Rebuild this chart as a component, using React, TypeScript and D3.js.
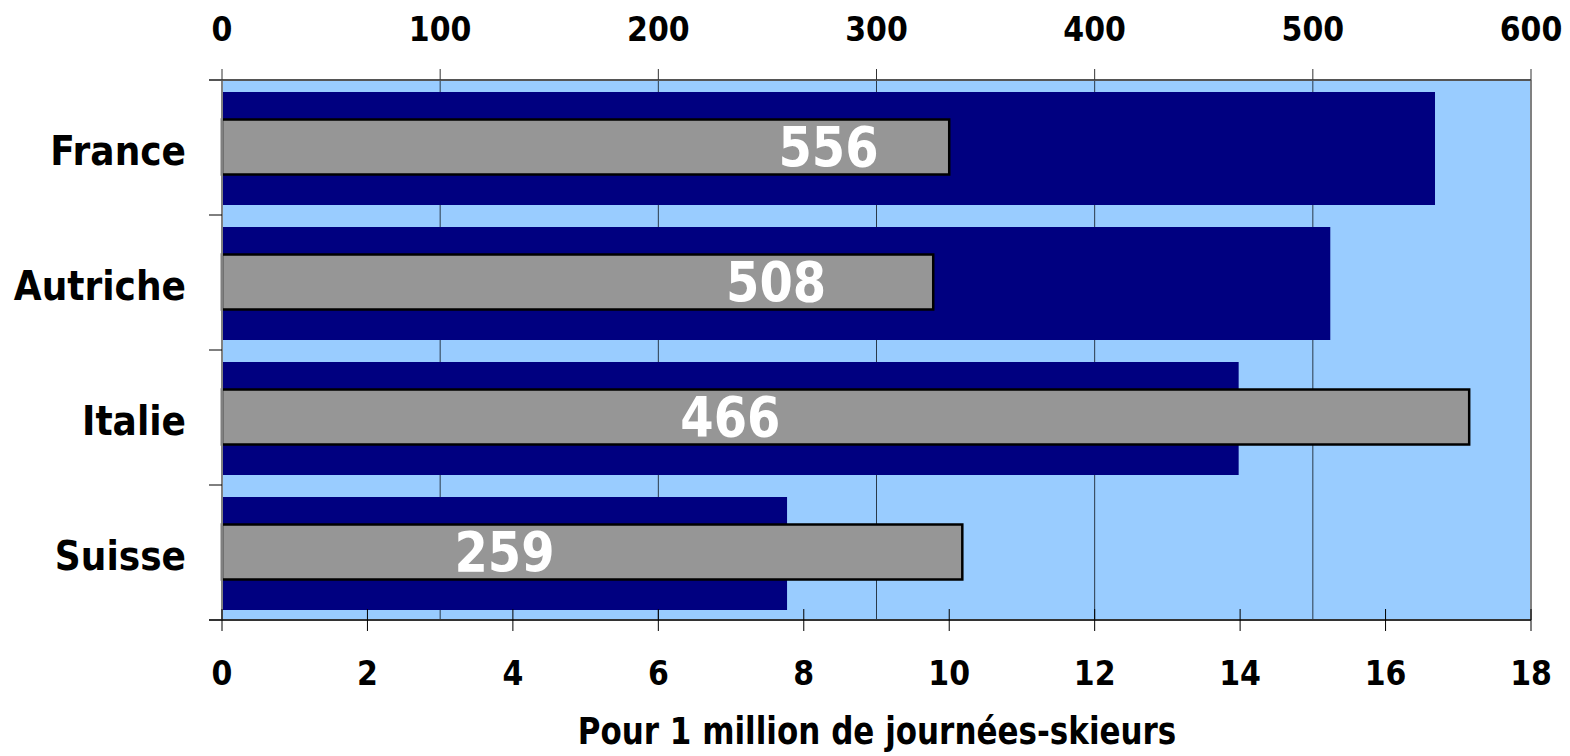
import { useEffect, useRef } from 'react';
import * as d3 from 'd3';

const countries = ['France', 'Autriche', 'Italie', 'Suisse'];
const totalValues = [556, 508, 466, 259];
const perMillionValues = [10.0, 9.78, 17.15, 10.18];
const topTicks = [0, 100, 200, 300, 400, 500, 600];
const bottomTicks = [0, 2, 4, 6, 8, 10, 12, 14, 16, 18];
const axisTitle = 'Pour 1 million de journées-skieurs';

const W = 1570;
const H = 756;
const FONT = '"DejaVu Sans", Verdana, sans-serif';

const App = () => {
    const chartRef = useRef<HTMLDivElement>(null);

    useEffect(() => {
        const left = 222, right = 1531, top = 80, bottom = 620;

        const svg = d3.select(chartRef.current)
            .append('svg')
            .attr('width', W)
            .attr('height', H)
            .style('position', 'absolute')
            .style('left', 0)
            .style('top', 0)
            .style('background', '#fff');

        const xTop = d3.scaleLinear().domain([0, 600]).range([left, right]);
        const xBottom = d3.scaleLinear().domain([0, 18]).range([left, right]);
        const y = d3.scaleBand().domain(countries).range([top, bottom]);

        // plot background
        svg.append('rect')
            .attr('x', left).attr('y', top)
            .attr('width', right - left).attr('height', bottom - top)
            .attr('fill', '#99CCFF');

        // gridlines from top axis
        svg.append('g')
            .selectAll('line')
            .data(topTicks.slice(1, -1))
            .enter()
            .append('line')
            .attr('x1', d => xTop(d)).attr('x2', d => xTop(d))
            .attr('y1', top).attr('y2', bottom)
            .attr('stroke', '#2a3a4a').attr('stroke-width', 1);

        // dark bars (top axis)
        const rows = countries.map((c, i) => ({ c, total: totalValues[i], per: perMillionValues[i] }));
        svg.append('g')
            .selectAll('rect')
            .data(rows)
            .enter()
            .append('rect')
            .attr('x', xTop(0))
            .attr('y', d => (y(d.c) as number) + 12)
            .attr('width', d => xTop(d.total) - xTop(0))
            .attr('height', 113)
            .attr('fill', '#000080');

        // grey bars (bottom axis)
        svg.append('g')
            .selectAll('rect')
            .data(rows)
            .enter()
            .append('rect')
            .attr('x', xBottom(0))
            .attr('y', d => (y(d.c) as number) + y.bandwidth() / 2 - 28)
            .attr('width', d => xBottom(d.per) - xBottom(0))
            .attr('height', 55)
            .attr('fill', '#969696')
            .attr('stroke', '#000')
            .attr('stroke-width', 2.5);

        // value labels
        svg.append('g')
            .selectAll('text')
            .data(rows)
            .enter()
            .append('text')
            .attr('transform', d => `translate(${(xTop(0) + xTop(d.total)) / 2},${(y(d.c) as number) + y.bandwidth() / 2 + 18}) scale(1,1.14)`)
            .attr('text-anchor', 'middle')
            .attr('font-family', FONT)
            .attr('font-weight', 'bold')
            .attr('font-size', 48)
            .attr('fill', '#fff')
            .text(d => d.total);

        // frame
        svg.append('line').attr('x1', left).attr('x2', left).attr('y1', top).attr('y2', bottom)
            .attr('stroke', '#808080').attr('stroke-width', 2);
        svg.append('line').attr('x1', right).attr('x2', right).attr('y1', top).attr('y2', bottom)
            .attr('stroke', '#808080').attr('stroke-width', 2);
        svg.append('line').attr('x1', left - 13).attr('x2', right).attr('y1', top).attr('y2', top)
            .attr('stroke', '#555').attr('stroke-width', 2);
        svg.append('line').attr('x1', left - 13).attr('x2', right).attr('y1', bottom).attr('y2', bottom)
            .attr('stroke', '#333').attr('stroke-width', 2);

        // category ticks on left
        svg.append('g')
            .selectAll('line')
            .data(countries.slice(1))
            .enter()
            .append('line')
            .attr('x1', left - 13).attr('x2', left)
            .attr('y1', d => y(d) as number).attr('y2', d => y(d) as number)
            .attr('stroke', '#000').attr('stroke-width', 1);

        // top ticks
        svg.append('g')
            .selectAll('line')
            .data(topTicks)
            .enter()
            .append('line')
            .attr('x1', d => xTop(d)).attr('x2', d => xTop(d))
            .attr('y1', top - 11).attr('y2', top)
            .attr('stroke', '#333').attr('stroke-width', 1);

        // bottom ticks (cross)
        svg.append('g')
            .selectAll('line')
            .data(bottomTicks)
            .enter()
            .append('line')
            .attr('x1', d => xBottom(d)).attr('x2', d => xBottom(d))
            .attr('y1', bottom - 11).attr('y2', bottom + 11)
            .attr('stroke', '#000').attr('stroke-width', 1);

        const label = (g: any, size: number) => g
            .attr('font-family', FONT)
            .attr('font-weight', 'bold')
            .attr('font-size', size)
            .attr('fill', '#000');

        label(svg.append('g'), 30)
            .selectAll('text')
            .data(topTicks)
            .enter()
            .append('text')
            .attr('transform', (d: number) => `translate(${xTop(d)},41) scale(1,1.14)`)
            .attr('text-anchor', 'middle')
            .text((d: number) => d);

        label(svg.append('g'), 30)
            .selectAll('text')
            .data(bottomTicks)
            .enter()
            .append('text')
            .attr('transform', (d: number) => `translate(${xBottom(d)},685) scale(1,1.1)`)
            .attr('text-anchor', 'middle')
            .text((d: number) => d);

        label(svg.append('g'), 36)
            .selectAll('text')
            .data(countries)
            .enter()
            .append('text')
            .attr('transform', (d: string) => `translate(186,${(y(d) as number) + y.bandwidth() / 2 + 17}) scale(1,1.14)`)
            .attr('text-anchor', 'end')
            .text((d: string) => d);

        label(svg.append('g'), 31)
            .append('text')
            .attr('transform', `translate(877,744) scale(1,1.2)`)
            .attr('text-anchor', 'middle')
            .text(axisTitle);

        return () => {
            d3.select(chartRef.current).select('svg').remove();
        };
    }, []);

    return <div ref={chartRef}></div>;
};

export default App;
